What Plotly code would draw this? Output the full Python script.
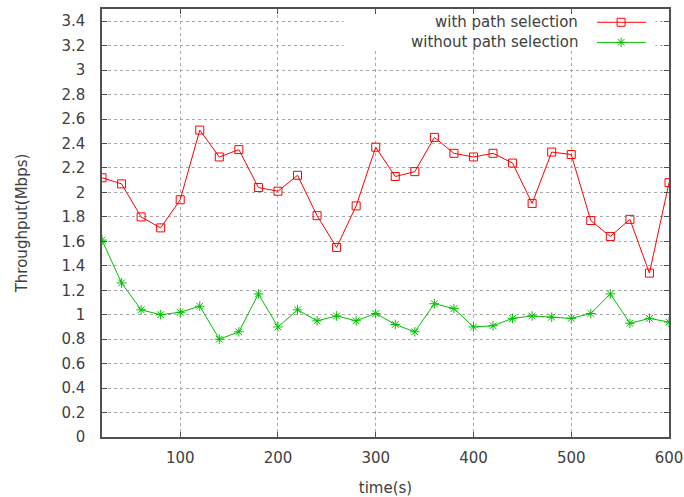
import plotly.graph_objects as go

time_s = [20, 40, 60, 80, 100, 120, 140, 160, 180, 200, 220, 240, 260, 280, 300,
          320, 340, 360, 380, 400, 420, 440, 460, 480, 500, 520, 540, 560, 580, 600]
with_ps = [2.12, 2.07, 1.80, 1.71, 1.94, 2.51, 2.29, 2.35, 2.04, 2.01, 2.14, 1.81, 1.55, 1.89, 2.37,
           2.13, 2.17, 2.45, 2.32, 2.29, 2.32, 2.24, 1.91, 2.33, 2.31, 1.77, 1.64, 1.78, 1.34, 2.08]
without_ps = [1.61, 1.26, 1.04, 1.00, 1.02, 1.07, 0.80, 0.86, 1.17, 0.90, 1.04, 0.95, 0.99, 0.95, 1.01,
              0.92, 0.86, 1.09, 1.05, 0.90, 0.91, 0.97, 0.99, 0.98, 0.97, 1.01, 1.17, 0.93, 0.97, 0.94]
series_names = ["with path selection", "without path selection"]
x_ticks = [100, 200, 300, 400, 500, 600]
y_ticks = [round(0.2 * i, 1) for i in range(18)]

RED = "#ff0000"
GREEN = "#00c000"
TXT = "#404040"
FONT = "DejaVu Sans"

fig = go.Figure()
fig.add_trace(go.Scatter(x=time_s, y=with_ps, mode="lines+markers", name=series_names[0],
                         line=dict(color=RED, width=1),
                         marker=dict(symbol="square-open", size=8, color=RED, line=dict(width=1))))
fig.add_trace(go.Scatter(x=time_s, y=without_ps, mode="lines+markers", name=series_names[1],
                         line=dict(color=GREEN, width=1),
                         marker=dict(symbol="asterisk-open", size=8, color=GREEN, line=dict(width=1, color=GREEN))))

# white box behind the legend (hides the grid there, as gnuplot does)
fig.add_shape(type="rect", xref="x", yref="y", x0=267, x1=586, y0=3.16, y1=3.5,
              fillcolor="white", line=dict(width=0), layer="between")

# custom gnuplot-style legend (text left, sample right) on an overlay axis
leg_y = [0.969, 0.922]
for name, col, sym, ly in [(series_names[0], RED, "square-open", leg_y[0]),
                           (series_names[1], GREEN, "asterisk-open", leg_y[1])]:
    fig.add_trace(go.Scatter(x=[0.873, 0.9155, 0.9595], y=[ly, ly, ly], xaxis="x2", yaxis="y2",
                             mode="lines", line=dict(color=col, width=1), showlegend=False,
                             hoverinfo="skip"))
    fig.add_trace(go.Scatter(x=[0.9155], y=[ly], xaxis="x2", yaxis="y2", mode="markers",
                             marker=dict(symbol=sym, size=8, color=col, line=dict(width=1, color=col)),
                             showlegend=False, hoverinfo="skip"))
    fig.add_annotation(x=0.843, y=ly, xref="x2", yref="y2", text=name, showarrow=False,
                       xanchor="right", yanchor="middle", font=dict(family=FONT, size=15, color=TXT))

axis_common = dict(showline=True, linecolor="#505050", linewidth=1.5, mirror="ticks",
                   ticks="inside", ticklen=5, tickcolor="#505050",
                   showgrid=True, gridcolor="#a8a8a8", griddash="dot", gridwidth=1,
                   zeroline=False, automargin=False, ticklabeloverflow="allow",
                   tickfont=dict(family=FONT, size=15, color=TXT))

fig.update_layout(
    width=684, height=497,
    margin=dict(l=102, r=15, t=9, b=60),
    paper_bgcolor="white", plot_bgcolor="white",
    showlegend=False,
    xaxis=dict(range=[20, 600], tickvals=x_ticks, ticklabelstandoff=6,
               title=dict(text="time(s)", font=dict(family=FONT, size=15, color=TXT), standoff=17),
               **axis_common),
    yaxis=dict(range=[0, 3.5], tickvals=y_ticks, ticklabelstandoff=12,
               title=dict(text="Throughput(Mbps)", font=dict(family=FONT, size=15, color=TXT), standoff=30),
               **axis_common),
    xaxis2=dict(overlaying="x", range=[0, 1], visible=False, fixedrange=True),
    yaxis2=dict(overlaying="y", range=[0, 1], visible=False, fixedrange=True),
)

# remove the browser's default 8px body margin so the figure fills the window exactly
fig.write_html("out.html", config={"displayModeBar": False},
               post_script="document.body.style.margin='0px';")
